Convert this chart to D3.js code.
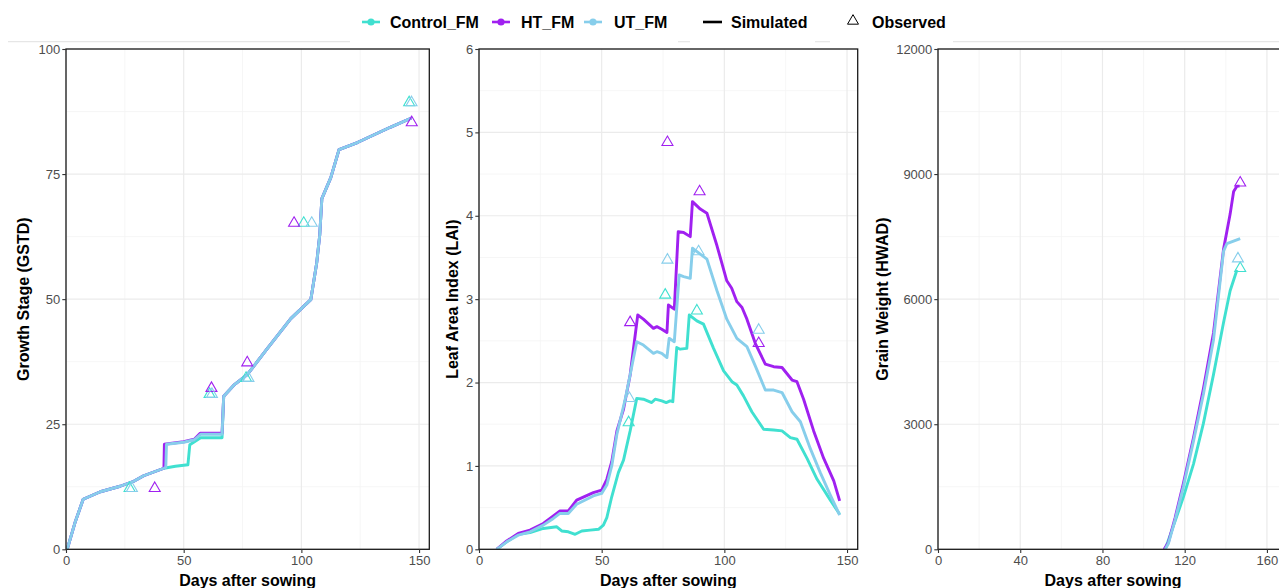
<!DOCTYPE html>
<html>
<head>
<meta charset="utf-8">
<script src="https://cdn.jsdelivr.net/npm/d3@7"></script>
<style>
  html, body { margin: 0; padding: 0; background: #fff; }
  svg { display: block; font-family: "Liberation Sans", Arial, sans-serif; }
</style>
</head>
<body>
<svg id="chart" width="1279" height="588"></svg>
<script>
// Treatments and their colours
const treatments = ["Control_FM", "HT_FM", "UT_FM"];
const treatmentColors = ["#40E0D0", "#A020F0", "#87CEEB"];

// Growth stage (GSTD), simulated: [day, value]
const gstdSimControl = [[0.5,0],[3.8,5.3],[7.3,10.0],[14.6,11.5],[23,12.6],[28.8,13.6],[33,14.7],[41.6,16.2],[46.5,16.6],[51.8,16.9],[52.6,20.9],[57.2,22.3],[66.3,22.3],[67,30.6],[71.3,32.8],[77,34.9],[85.5,40.1],[95.5,46.1],[104,49.9],[106.5,57.2],[107.8,62.8],[108.7,70.1],[112.5,74.3],[116,79.9],[123.8,81.3],[138,84.4],[146.8,86.2]];
const gstdSimHT = [[0.5,0],[3.8,5.3],[7.3,10.0],[14.6,11.5],[23,12.6],[28.8,13.6],[33,14.7],[41.6,16.2],[41.8,21.0],[50,21.5],[54.5,22.0],[57,23.2],[66.3,23.2],[67,30.6],[71.3,32.8],[77,34.9],[85.5,40.1],[95.5,46.1],[104,49.9],[106.5,57.2],[107.8,62.8],[108.7,70.1],[112.5,74.3],[116,79.9],[123.8,81.3],[138,84.4],[146.8,86.2]];
const gstdSimUT = [[0.5,0],[3.8,5.3],[7.3,10.0],[14.6,11.5],[23,12.6],[28.8,13.6],[33,14.7],[41.6,16.2],[42.4,16.4],[42.7,21.0],[50,21.4],[54.5,21.9],[57.2,23.0],[66.3,23.0],[67,30.6],[71.3,32.8],[77,34.9],[85.5,40.1],[95.5,46.1],[104,49.9],[106.5,57.2],[107.8,62.8],[108.7,70.1],[112.5,74.3],[116,79.9],[123.8,81.3],[138,84.4],[146.8,86.2]];
// Growth stage, observed
const gstdObsControl = [[27,12.2],[61,31],[76.5,34.2],[101,65.2],[145.8,89.3]];
const gstdObsHT = [[37.7,12.2],[61.8,32.2],[77,37.3],[96.9,65.2],[146.9,85.3]];
const gstdObsUT = [[28,12.2],[62,31],[77.5,34.2],[104.4,65.2],[146.8,89.3]];

// Leaf area index (LAI), simulated
const laiSimControl = [[7.2,0],[11.3,0.09],[16,0.18],[20.8,0.20],[26.2,0.25],[31.7,0.27],[33.7,0.22],[36.4,0.21],[39.2,0.18],[41.9,0.22],[45.3,0.23],[48.7,0.24],[50.7,0.29],[52.1,0.38],[54.1,0.63],[56.8,0.92],[58.9,1.07],[61.6,1.42],[64.3,1.81],[67,1.80],[70.4,1.76],[71.8,1.80],[74.5,1.78],[76.3,1.76],[77.9,1.78],[79,1.77],[80.6,2.42],[82,2.40],[84.7,2.41],[85.7,2.81],[88.8,2.74],[91.5,2.70],[95.6,2.41],[99.7,2.14],[103.1,2.01],[105.1,1.97],[107.8,1.84],[111.2,1.65],[116,1.44],[120.1,1.43],[123.5,1.42],[126.9,1.34],[129.6,1.32],[133.7,1.09],[137.8,0.84],[143.2,0.59],[147,0.42]];
const laiSimHT = [[7.2,0],[11.3,0.1],[16,0.19],[20.8,0.23],[26.2,0.31],[30.3,0.40],[33,0.46],[36.4,0.46],[39.8,0.59],[46.6,0.68],[50,0.71],[52.1,0.84],[54.1,1.05],[56.2,1.42],[58.9,1.68],[61.6,2.09],[64.7,2.81],[67,2.76],[71.1,2.65],[72.5,2.67],[74.5,2.64],[76.6,2.60],[77.2,2.93],[79.6,2.88],[81.2,3.81],[83.4,3.80],[86.1,3.75],[87,4.17],[90.2,4.08],[92.9,4.03],[97,3.64],[101,3.22],[103,3.13],[105.1,2.97],[107.2,2.90],[109.2,2.76],[112.6,2.47],[116.7,2.22],[120.1,2.19],[123.5,2.18],[127.6,2.03],[129.6,2.01],[132.3,1.80],[136.4,1.42],[140.5,1.09],[144.6,0.82],[147,0.58]];
const laiSimUT = [[7.2,0],[11.3,0.09],[16,0.17],[20.8,0.21],[26.2,0.29],[30.3,0.37],[33,0.43],[36.4,0.43],[39.8,0.54],[46.6,0.64],[50,0.67],[52.1,0.77],[54.1,1.0],[56.2,1.38],[59.6,1.8],[64.3,2.49],[67,2.45],[71.1,2.35],[72.5,2.37],[74.5,2.35],[76.6,2.30],[77.5,2.53],[79.6,2.49],[81.6,3.29],[83.4,3.27],[86.1,3.25],[87,3.61],[90.2,3.54],[92.9,3.48],[97,3.10],[101,2.76],[105.1,2.53],[109.2,2.43],[112.6,2.20],[116.7,1.91],[120.1,1.91],[123.5,1.88],[127.6,1.65],[131,1.53],[135,1.21],[139.1,0.92],[143.2,0.65],[147,0.41]];
// Leaf area index, observed
const laiObsControl = [[61,1.52],[75.9,3.05],[88.8,2.86]];
const laiObsHT = [[61.6,2.72],[76.8,4.88],[89.9,4.29],[114,2.47]];
const laiObsUT = [[61.3,1.81],[76.8,3.47],[89.5,3.57],[114,2.63]];

// Grain weight (HWAD), simulated
const hwadSimControl = [[110.5,0],[115.3,670],[119.4,1260],[124.3,2050],[129.1,3020],[134,4190],[138.9,5440],[142.1,6200],[145.4,6700]];
const hwadSimHT = [[110,0],[112.1,170],[115.3,750],[119.4,1590],[124.3,2680],[129.1,3850],[134,5190],[138.9,7200],[142.1,8040],[143.8,8580],[145.4,8710],[146.7,8710]];
const hwadSimUT = [[110.5,0],[112.1,140],[115.3,700],[119.4,1510],[124.3,2600],[129.1,3720],[134,5020],[138.9,7150],[140.5,7330],[147,7450]];
// Grain weight, observed
const hwadObsControl = [[147,6740]];
const hwadObsHT = [[147,8790]];
const hwadObsUT = [[145.9,6970]];

// Axis ticks
const gstdTicks = [0, 25, 50, 75, 100];
const laiTicks = [0, 1, 2, 3, 4, 5, 6];
const hwadTicks = [0, 3000, 6000, 9000, 12000];
const dayTicks = [0, 50, 100, 150];
const dayTicksWide = [0, 40, 80, 120, 160];

const svg = d3.select("#chart");
const plotTop = 49, plotBottom = 549.3;

const panels = [
  { title: "Growth Stage (GSTD)", xr: [66, 429.3], xd: [0, 154.35], yd: [0, 100], yt: gstdTicks, xt: dayTicks,
    sim: [gstdSimControl, gstdSimHT, gstdSimUT], obs: [gstdObsControl, gstdObsHT, gstdObsUT], titleX: 23 },
  { title: "Leaf Area Index (LAI)", xr: [479, 857.7], xd: [0, 154.35], yd: [0, 6], yt: laiTicks, xt: dayTicks,
    sim: [laiSimControl, laiSimHT, laiSimUT], obs: [laiObsControl, laiObsHT, laiObsUT], titleX: 452.5 },
  { title: "Grain Weight (HWAD)", xr: [938, 1288], xd: [0, 170.25], yd: [0, 12000], yt: hwadTicks, xt: dayTicksWide,
    sim: [hwadSimControl, hwadSimHT, hwadSimUT], obs: [hwadObsControl, hwadObsHT, hwadObsUT], titleX: 882 }
];

function trianglePath(s) {
  const h = s * Math.sqrt(3) / 2;
  return `M0,${-h * 2 / 3}L${s / 2},${h / 3}L${-s / 2},${h / 3}Z`;
}

// Faint rule along the top under the legend
const ruleSegments = [[8, 350], [678, 690], [815, 830], [953, 1279]];
svg.selectAll("line.rule").data(ruleSegments).join("line")
  .attr("x1", d => d[0]).attr("x2", d => d[1])
  .attr("y1", 41.7).attr("y2", 41.7)
  .attr("stroke", "#E6E6E6").attr("stroke-width", 1.2);

panels.forEach(p => {
  const x = d3.scaleLinear().domain(p.xd).range(p.xr);
  const y = d3.scaleLinear().domain(p.yd).range([plotBottom, plotTop]);
  const g = svg.append("g");
  const clipId = "clip" + Math.round(p.xr[0]);
  svg.append("clipPath").attr("id", clipId).append("rect")
    .attr("x", p.xr[0]).attr("y", plotTop).attr("width", p.xr[1] - p.xr[0]).attr("height", plotBottom - plotTop);

  // minor grid
  const yStep = p.yt[1] - p.yt[0];
  const yMinor = p.yt.slice(0, -1).map(v => v + yStep / 2);
  const xStep = p.xt[1] - p.xt[0];
  const xMinor = p.xt.map(v => v + xStep / 2).filter(v => v < p.xd[1]);
  g.selectAll("line.ymin").data(yMinor).join("line")
    .attr("x1", p.xr[0]).attr("x2", p.xr[1]).attr("y1", d => y(d)).attr("y2", d => y(d))
    .attr("stroke", "#F4F4F4").attr("stroke-width", 0.8);
  g.selectAll("line.xmin").data(xMinor).join("line")
    .attr("x1", d => x(d)).attr("x2", d => x(d)).attr("y1", plotTop).attr("y2", plotBottom)
    .attr("stroke", "#F4F4F4").attr("stroke-width", 0.8);
  // major grid
  g.selectAll("line.ymaj").data(p.yt).join("line")
    .attr("x1", p.xr[0]).attr("x2", p.xr[1]).attr("y1", d => y(d)).attr("y2", d => y(d))
    .attr("stroke", "#EBEBEB").attr("stroke-width", 1.2);
  g.selectAll("line.xmaj").data(p.xt).join("line")
    .attr("x1", d => x(d)).attr("x2", d => x(d)).attr("y1", plotTop).attr("y2", plotBottom)
    .attr("stroke", "#EBEBEB").attr("stroke-width", 1.2);

  // simulated lines
  const line = d3.line().x(d => x(d[0])).y(d => y(d[1]));
  const plot = g.append("g").attr("clip-path", `url(#${clipId})`);
  p.sim.forEach((s, i) => {
    plot.append("path").attr("d", line(s)).attr("fill", "none")
      .attr("stroke", treatmentColors[i]).attr("stroke-width", 2.9)
      .attr("stroke-linejoin", "round").attr("stroke-linecap", "butt");
  });
  // observed points
  p.obs.forEach((s, i) => {
    plot.selectAll(null).data(s).join("path")
      .attr("transform", d => `translate(${x(d[0])},${y(d[1])})`)
      .attr("d", trianglePath(11))
      .attr("fill", "none").attr("stroke", treatmentColors[i]).attr("stroke-width", 1.1);
  });

  // border
  g.append("rect").attr("x", p.xr[0]).attr("y", plotTop)
    .attr("width", p.xr[1] - p.xr[0]).attr("height", plotBottom - plotTop)
    .attr("fill", "none").attr("stroke", "#1a1a1a").attr("stroke-width", 1.3);

  // axes
  const ya = g.append("g").attr("transform", `translate(${p.xr[0]},0)`)
    .call(d3.axisLeft(y).tickValues(p.yt).tickSize(3.7).tickPadding(2).tickFormat(d3.format("d")));
  const xa = g.append("g").attr("transform", `translate(0,${plotBottom})`)
    .call(d3.axisBottom(x).tickValues(p.xt).tickSize(3.7).tickPadding(3).tickFormat(d3.format("d")));
  [ya, xa].forEach(a => {
    a.select(".domain").remove();
    a.selectAll(".tick line").attr("stroke", "#333").attr("stroke-width", 1.1);
    a.selectAll(".tick text").attr("fill", "#4D4D4D").style("font-size", "13px")
      .style("font-family", '"Liberation Sans", Arial, sans-serif');
  });

  // axis titles
  g.append("text").attr("x", (p.xr[0] + p.xr[1]) / 2).attr("y", 585.5)
    .attr("text-anchor", "middle").style("font-size", "16px").style("font-weight", "bold")
    .text("Days after sowing");
  g.append("text").attr("transform", `translate(${p.titleX + 5.5},${(plotTop + plotBottom) / 2}) rotate(-90)`)
    .attr("text-anchor", "middle").style("font-size", "16px").style("font-weight", "bold")
    .text(p.title);
});

// Legend
const legend = svg.append("g");
const keyX = [371, 501, 593];
const textX = [390, 521, 614];
treatments.forEach((t, i) => {
  legend.append("line").attr("x1", keyX[i] - 9).attr("x2", keyX[i] + 9)
    .attr("y1", 22).attr("y2", 22).attr("stroke", treatmentColors[i]).attr("stroke-width", 2.6);
  legend.append("circle").attr("cx", keyX[i]).attr("cy", 22).attr("r", 3.6).attr("fill", treatmentColors[i]);
  legend.append("text").attr("x", textX[i]).attr("y", 28).style("font-size", "16px")
    .style("font-weight", "bold").text(t);
});
legend.append("line").attr("x1", 703).attr("x2", 722).attr("y1", 22).attr("y2", 22)
  .attr("stroke", "#000").attr("stroke-width", 2.6);
legend.append("text").attr("x", 731).attr("y", 28).style("font-size", "16px").style("font-weight", "bold").text("Simulated");
legend.append("path").attr("transform", "translate(853,21)").attr("d", trianglePath(11))
  .attr("fill", "none").attr("stroke", "#000").attr("stroke-width", 1);
legend.append("text").attr("x", 872).attr("y", 28).style("font-size", "16px").style("font-weight", "bold").text("Observed");
</script>
</body>
</html>
